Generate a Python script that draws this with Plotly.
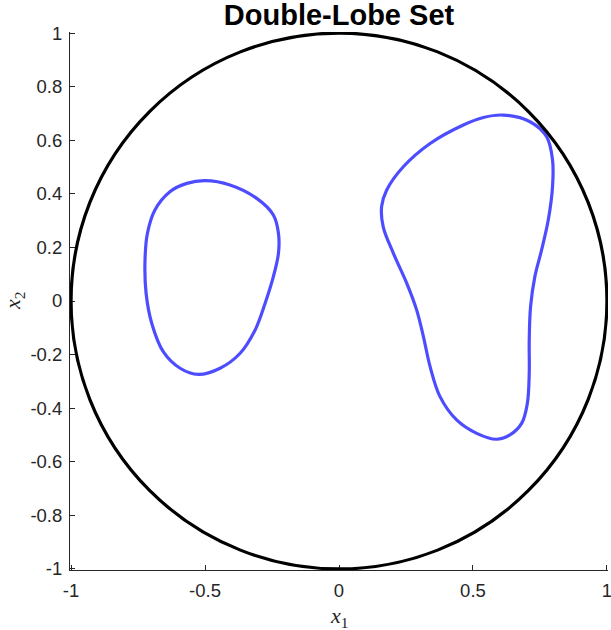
import plotly.graph_objects as go

# ---- data ----
title_text = "Double-Lobe Set"
circle_radius = 1.0

left_lobe_x = [-0.500, -0.407, -0.307, -0.245, -0.226, -0.226, -0.245, -0.276, -0.313, -0.369,
               -0.444, -0.525, -0.593, -0.656, -0.699, -0.720, -0.724, -0.715, -0.687, -0.631,
               -0.568, -0.500]
left_lobe_y = [0.449, 0.433, 0.383, 0.321, 0.253, 0.178, 0.091, -0.009, -0.108, -0.195,
               -0.251, -0.274, -0.251, -0.189, -0.083, 0.029, 0.153, 0.253, 0.340, 0.408,
               0.439, 0.449]

right_lobe_x = [0.613, 0.713, 0.775, 0.797, 0.797, 0.781, 0.756, 0.731, 0.715, 0.710,
                0.710, 0.703, 0.682, 0.638, 0.588, 0.514, 0.439, 0.377, 0.340, 0.315,
                0.290, 0.253, 0.203, 0.165, 0.159, 0.178, 0.240, 0.340, 0.464, 0.539,
                0.613]
right_lobe_y = [0.694, 0.669, 0.613, 0.526, 0.427, 0.302, 0.190, 0.091, -0.021, -0.146,
                -0.270, -0.382, -0.456, -0.500, -0.516, -0.494, -0.444, -0.357, -0.245, -0.133,
                -0.034, 0.066, 0.178, 0.277, 0.352, 0.414, 0.501, 0.588, 0.657, 0.685,
                0.694]

x_tick_vals = [-1, -0.5, 0, 0.5, 1]
x_tick_text = ["-1", "-0.5", "0", "0.5", "1"]
y_tick_vals = [-1, -0.8, -0.6, -0.4, -0.2, 0, 0.2, 0.4, 0.6, 0.8, 1]
y_tick_text = ["-1", "-0.8", "-0.6", "-0.4", "-0.2", "0", "0.2", "0.4", "0.6", "0.8", "1"]

# ---- styles ----
lobe_color = "rgb(77,77,255)"
axis_color = "#262626"
tick_font = dict(family="Liberation Sans, Arial, sans-serif", size=18.5, color=axis_color)

fig = go.Figure()
for xs, ys in [(left_lobe_x, left_lobe_y), (right_lobe_x, right_lobe_y)]:
    fig.add_trace(go.Scatter(x=xs, y=ys, mode="lines",
                             line=dict(color=lobe_color, width=3.2, shape="spline", smoothing=1.0),
                             hoverinfo="skip", showlegend=False))

fig.add_shape(type="circle", xref="x", yref="y",
              x0=-circle_radius, y0=-circle_radius, x1=circle_radius, y1=circle_radius,
              line=dict(color="black", width=3.2), layer="above")

axis_common = dict(showgrid=False, zeroline=False, showline=True, linecolor=axis_color,
                   linewidth=1, ticks="inside", ticklen=5, tickwidth=1, tickcolor=axis_color,
                   mirror=False, tickfont=tick_font, range=[-1.004, 1.004], automargin=False,
                   ticklabeloverflow="allow")

fig.update_xaxes(**axis_common, tickvals=x_tick_vals, ticktext=x_tick_text, ticklabelstandoff=4)
fig.update_yaxes(**axis_common, tickvals=y_tick_vals, ticktext=y_tick_text, ticklabelstandoff=3)

fig.update_layout(
    width=611, height=630,
    margin=dict(l=70, r=3, t=32, b=60, autoexpand=False),
    paper_bgcolor="white", plot_bgcolor="white",
    title=dict(text="<b>" + title_text + "</b>", x=0.5, xref="paper", xanchor="center",
               y=1 - 14.5 / 630, yref="container", yanchor="middle",
               font=dict(family="Liberation Sans, Arial, sans-serif", size=29, color="black")),
    annotations=[
        dict(text="<i>x</i><sub>1</sub>", xref="paper", yref="paper", x=0.5, y=-0.087,
             xanchor="center", yanchor="middle", showarrow=False,
             font=dict(family="Liberation Serif, Times New Roman, serif", size=22, color=axis_color)),
        dict(text="<i>x</i><sub>2</sub>", xref="paper", yref="paper", x=-0.104, y=0.5,
             xanchor="center", yanchor="middle", showarrow=False, textangle=-90,
             font=dict(family="Liberation Serif, Times New Roman, serif", size=22, color=axis_color)),
    ],
)

fig.write_html("out.html", config={"displayModeBar": False},
               post_script="document.body.style.margin='0';document.body.style.overflow='hidden';")
